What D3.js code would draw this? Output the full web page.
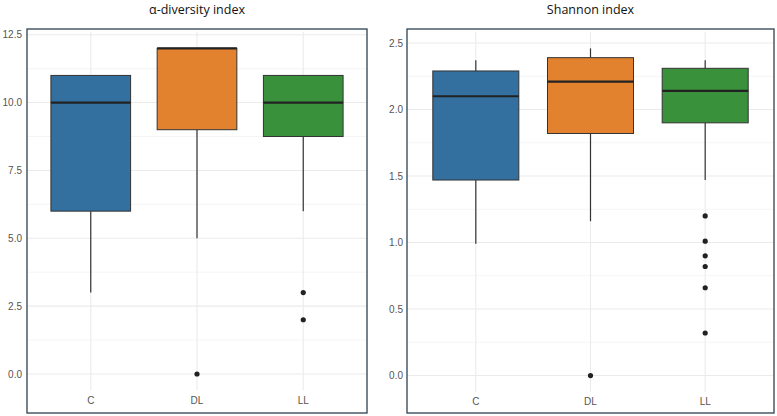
<!DOCTYPE html>
<html>
<head>
<meta charset="utf-8">
<script src="https://cdn.jsdelivr.net/npm/d3@7"></script>
<style>
  body { margin: 0; background: #fff; }
  svg text { font-family: "Liberation Sans", Arial, sans-serif; }
</style>
</head>
<body>
<script>
"use strict";
var groups = ["C", "DL", "LL"];
var colors = ["#33709f", "#e2822f", "#3a913b"];

// alpha diversity: [low whisker, Q1, median, Q3, high whisker]
var alphaStats = [
  [3, 6, 10, 11, 11],
  [5, 9, 12, 12, 12],
  [6, 8.75, 10, 11, 11]
];
var alphaOutliers = [[], [0], [3, 2]];
var alphaTicks = [0, 2.5, 5, 7.5, 10, 12.5];

// shannon index
var shannonStats = [
  [0.99, 1.47, 2.10, 2.29, 2.37],
  [1.16, 1.82, 2.21, 2.39, 2.46],
  [1.47, 1.90, 2.14, 2.31, 2.37]
];
var shannonOutliers = [[], [0], [1.20, 1.01, 0.90, 0.82, 0.66, 0.32]];
var shannonTicks = [0, 0.5, 1, 1.5, 2, 2.5];

var W = 777, H = 416;
var svg = d3.select("body").append("svg")
  .attr("width", W).attr("height", H);

function drawPanel(cfg) {
  var g = svg.append("g");
  // ggplot-style discrete expansion: 0.6 units each side
  var x = d3.scaleBand().domain(groups)
    .range([cfg.left, cfg.right]).paddingOuter(0.1).paddingInner(0);
  var y = d3.scaleLinear().domain(cfg.domain).range([cfg.bottom, cfg.top]);
  var step = cfg.ticks[1] - cfg.ticks[0];
  var minor = cfg.ticks.map(function(t) { return t + step / 2; })
    .concat([cfg.ticks[0] - step / 2])
    .filter(function(t) { return t > cfg.domain[0] && t < cfg.domain[1]; });

  g.selectAll("line.minor").data(minor).enter().append("line")
    .attr("x1", cfg.left).attr("x2", cfg.right)
    .attr("y1", function(d) { return y(d); }).attr("y2", function(d) { return y(d); })
    .attr("stroke", "#f2f2f2").attr("stroke-width", 0.8);
  g.selectAll("line.major").data(cfg.ticks).enter().append("line")
    .attr("x1", cfg.left).attr("x2", cfg.right)
    .attr("y1", function(d) { return y(d); }).attr("y2", function(d) { return y(d); })
    .attr("stroke", "#ebebeb").attr("stroke-width", 1.1);
  g.selectAll("line.vgrid").data(groups).enter().append("line")
    .attr("x1", function(d) { return x(d) + x.bandwidth() / 2; })
    .attr("x2", function(d) { return x(d) + x.bandwidth() / 2; })
    .attr("y1", cfg.top).attr("y2", cfg.bottom)
    .attr("stroke", "#ebebeb").attr("stroke-width", 1.1);

  // y tick labels
  g.selectAll("text.ytick").data(cfg.ticks).enter().append("text")
    .attr("x", cfg.labelX).attr("y", function(d) { return y(d); })
    .attr("dy", "0.35em").attr("text-anchor", "end")
    .attr("font-size", 10).attr("fill", "#555")
    .text(function(d) { return d3.format(".1f")(d); });
  // x tick labels
  g.selectAll("text.xtick").data(groups).enter().append("text")
    .attr("x", function(d) { return x(d) + x.bandwidth() / 2; })
    .attr("y", cfg.xLabelY).attr("text-anchor", "middle")
    .attr("font-size", 10).attr("fill", "#555")
    .text(function(d) { return d; });

  var bw = x.bandwidth() * 0.75;
  var boxes = g.selectAll("g.box").data(cfg.stats).enter().append("g");
  boxes.each(function(s, i) {
    var el = d3.select(this);
    var cx = x(groups[i]) + x.bandwidth() / 2;
    el.append("line").attr("x1", cx).attr("x2", cx)
      .attr("y1", y(s[0])).attr("y2", y(s[1]))
      .attr("stroke", "#333").attr("stroke-width", 1.2);
    el.append("line").attr("x1", cx).attr("x2", cx)
      .attr("y1", y(s[3])).attr("y2", y(s[4]))
      .attr("stroke", "#333").attr("stroke-width", 1.2);
    el.append("rect")
      .attr("x", cx - bw / 2).attr("width", bw)
      .attr("y", y(s[3])).attr("height", y(s[1]) - y(s[3]))
      .attr("fill", colors[i]).attr("stroke", "#333").attr("stroke-width", 1);
    el.append("line").attr("x1", cx - bw / 2).attr("x2", cx + bw / 2)
      .attr("y1", y(s[2])).attr("y2", y(s[2]))
      .attr("stroke", "#222").attr("stroke-width", 2.2);
    el.selectAll("circle").data(cfg.outliers[i]).enter().append("circle")
      .attr("cx", cx).attr("cy", function(d) { return y(d); })
      .attr("r", 2.6).attr("fill", "#222");
  });

  // border
  g.append("rect")
    .attr("x", cfg.bx).attr("y", cfg.by).attr("width", cfg.bw).attr("height", cfg.bh)
    .attr("fill", "none").attr("stroke", "#3d4f5c").attr("stroke-width", 1.4);

  g.append("text")
    .attr("x", (cfg.bx + cfg.bx + cfg.bw) / 2).attr("y", 14)
    .attr("text-anchor", "middle").attr("font-size", 12.5)
    .style("font-family", "'Open Sans', 'Noto Sans', sans-serif")
    .attr("font-weight", 500).attr("fill", "#111")
    .text(cfg.title);
}

drawPanel({
  title: "α-diversity index",
  stats: alphaStats, outliers: alphaOutliers, ticks: alphaTicks,
  domain: [-0.6, 12.6], left: 27, right: 367, top: 32, bottom: 390.3,
  labelX: 22, xLabelY: 404,
  bx: 27, by: 29, bw: 340, bh: 384
});
drawPanel({
  title: "Shannon index",
  stats: shannonStats, outliers: shannonOutliers, ticks: shannonTicks,
  domain: [-0.123, 2.583], left: 407, right: 774, top: 32, bottom: 391.9,
  labelX: 403, xLabelY: 405,
  bx: 407, by: 29, bw: 367, bh: 384
});
</script>
</body>
</html>
